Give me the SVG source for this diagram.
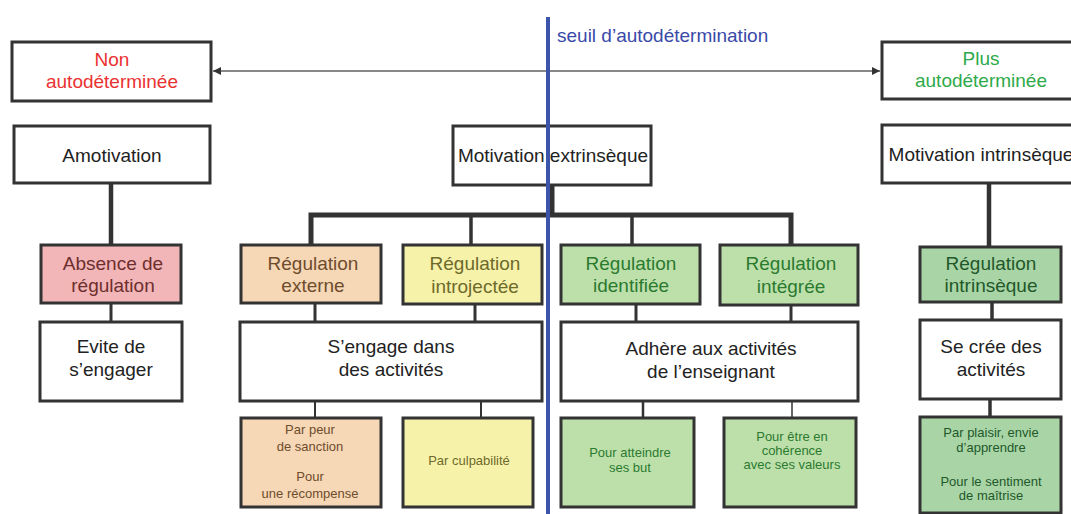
<svg xmlns="http://www.w3.org/2000/svg" width="1071" height="514" viewBox="0 0 1071 514">
<style>
text{font-family:"Liberation Sans",Arial,sans-serif;text-anchor:middle}
.box{stroke:#333;stroke-width:3}
.w{fill:#fff}
.pink{fill:#f2b6b8}
.peach{fill:#f6d7b6}
.yel{fill:#f6f2aa}
.grn{fill:#bde0aa}
.grn2{fill:#a9d5a6}
.big{font-size:19px;fill:#222}
.lab{font-size:19px}
.sm{font-size:13px}
.conn{stroke:#333;fill:none}
</style>
<defs>
<marker id="ah" viewBox="0 0 10 10" refX="10" refY="5" markerWidth="8" markerHeight="8" markerUnits="userSpaceOnUse" orient="auto-start-reverse">
<path d="M0,0 L10,5 L0,10 z" fill="#333"/>
</marker>
</defs>
<rect width="1071" height="514" fill="#fff"/>
<g id="connectors">
<line x1="213" y1="71" x2="880" y2="71" stroke="#888" stroke-width="2" marker-start="url(#ah)" marker-end="url(#ah)"/>
<line class="conn" x1="111" y1="183" x2="111" y2="245" stroke-width="4.5"/>
<line class="conn" x1="552" y1="185" x2="552" y2="215" stroke-width="5"/>
<polyline class="conn" points="311,245 311,215 791,215 791,245" stroke-width="5"/>
<line class="conn" x1="471" y1="215" x2="471" y2="245" stroke-width="3.5"/>
<line class="conn" x1="632" y1="215" x2="632" y2="245" stroke-width="3.5"/>
<line class="conn" x1="989" y1="183" x2="989" y2="247" stroke-width="4.5"/>
<line class="conn" x1="111" y1="303" x2="111" y2="322" stroke-width="3"/>
<line class="conn" x1="315" y1="303" x2="315" y2="322" stroke-width="3"/>
<line class="conn" x1="475" y1="304" x2="475" y2="322" stroke-width="3"/>
<line class="conn" x1="636" y1="304" x2="636" y2="322" stroke-width="3"/>
<line class="conn" x1="791" y1="305" x2="791" y2="322" stroke-width="3"/>
<line class="conn" x1="992" y1="302" x2="992" y2="320" stroke-width="3.5"/>
<line class="conn" x1="315" y1="401" x2="315" y2="418" stroke-width="2"/>
<line class="conn" x1="481" y1="401" x2="481" y2="418" stroke-width="2"/>
<line class="conn" x1="643" y1="401" x2="643" y2="418" stroke-width="2.5"/>
<line class="conn" x1="792" y1="401" x2="792" y2="418" stroke-width="1.5"/>
<line class="conn" x1="990" y1="399" x2="990" y2="417" stroke-width="3.5"/>
</g>
<g id="non-autodeterminee">
<rect class="box w" x="12" y="42" width="199" height="59"/>
<text class="lab" x="112" y="66" fill="#ea3131">Non</text>
<text class="lab" x="112" y="88" fill="#ea3131">autodéterminée</text>
</g>
<g id="plus-autodeterminee">
<rect class="box w" x="882" y="42" width="199" height="57"/>
<text class="lab" x="981" y="65" fill="#2eaa4a">Plus</text>
<text class="lab" x="981" y="87" fill="#2eaa4a">autodéterminée</text>
</g>
<g id="amotivation">
<rect class="box w" x="14" y="126" width="196" height="57"/>
<text class="big" x="112" y="162">Amotivation</text>
</g>
<g id="motivation-extrinseque">
<rect class="box w" x="453" y="126" width="198" height="59"/>
<text class="big" x="553" y="162">Motivation extrinsèque</text>
</g>
<g id="motivation-intrinseque">
<rect class="box w" x="882" y="125" width="199" height="58"/>
<text class="big" x="981" y="161">Motivation intrinsèque</text>
</g>
<g id="absence-regulation">
<rect class="box pink" x="41" y="245" width="140" height="58"/>
<text class="lab" x="113" y="270" fill="#6e2e2e">Absence de</text>
<text class="lab" x="113" y="292" fill="#6e2e2e">régulation</text>
</g>
<g id="regulation-externe">
<rect class="box peach" x="241" y="245" width="140" height="58"/>
<text class="lab" x="313" y="270" fill="#6e4c2c">Régulation</text>
<text class="lab" x="313" y="292" fill="#6e4c2c">externe</text>
</g>
<g id="regulation-introjectee">
<rect class="box yel" x="403" y="245" width="139" height="59"/>
<text class="lab" x="475" y="270" fill="#6e6a2a">Régulation</text>
<text class="lab" x="475" y="293" fill="#6e6a2a">introjectée</text>
</g>
<g id="regulation-identifiee">
<rect class="box grn" x="561" y="245" width="139" height="59"/>
<text class="lab" x="631" y="270" fill="#2b7a30">Régulation</text>
<text class="lab" x="631" y="292" fill="#2b7a30">identifiée</text>
</g>
<g id="regulation-integree">
<rect class="box grn" x="720" y="245" width="138" height="60"/>
<text class="lab" x="791" y="270" fill="#2b7a30">Régulation</text>
<text class="lab" x="791" y="293" fill="#2b7a30">intégrée</text>
</g>
<g id="regulation-intrinseque">
<rect class="box grn2" x="920" y="247" width="141" height="55"/>
<text class="lab" x="991" y="270" fill="#22582a">Régulation</text>
<text class="lab" x="991" y="292" fill="#22582a">intrinsèque</text>
</g>
<g id="evite">
<rect class="box w" x="40" y="322" width="142" height="79"/>
<text class="big" x="111" y="353">Evite de</text>
<text class="big" x="111" y="376">s’engager</text>
</g>
<g id="sengage">
<rect class="box w" x="240" y="322" width="302" height="79"/>
<text class="big" x="391" y="353">S’engage dans</text>
<text class="big" x="391" y="376">des activités</text>
</g>
<g id="adhere">
<rect class="box w" x="561" y="322" width="297" height="79"/>
<text class="big" x="711" y="355">Adhère aux activités</text>
<text class="big" x="711" y="378">de l’enseignant</text>
</g>
<g id="se-cree">
<rect class="box w" x="920" y="320" width="141" height="79"/>
<text class="big" x="991" y="353">Se crée des</text>
<text class="big" x="991" y="376">activités</text>
</g>
<g id="par-peur">
<rect class="box peach" x="241" y="418" width="140" height="89"/>
<text class="sm" x="310" y="434" fill="#6e4c2c">Par peur</text>
<text class="sm" x="310" y="451" fill="#6e4c2c">de sanction</text>
<text class="sm" x="310" y="481" fill="#6e4c2c">Pour</text>
<text class="sm" x="310" y="498" fill="#6e4c2c">une récompense</text>
</g>
<g id="par-culpabilite">
<rect class="box yel" x="403" y="418" width="130" height="89"/>
<text class="sm" x="469" y="465" fill="#6e6a2a">Par culpabilité</text>
</g>
<g id="pour-atteindre">
<rect class="box grn" x="561" y="418" width="133" height="89"/>
<text class="sm" x="630" y="457" fill="#2b7a30">Pour atteindre</text>
<text class="sm" x="630" y="472" fill="#2b7a30">ses but</text>
</g>
<g id="pour-etre">
<rect class="box grn" x="724" y="418" width="132" height="89"/>
<text class="sm" x="792" y="441" fill="#2b7a30">Pour être en</text>
<text class="sm" x="792" y="455" fill="#2b7a30">cohérence</text>
<text class="sm" x="792" y="469" fill="#2b7a30">avec ses valeurs</text>
</g>
<g id="par-plaisir">
<rect class="box grn2" x="920" y="417" width="141" height="96"/>
<text class="sm" x="991" y="437" fill="#22582a">Par plaisir, envie</text>
<text class="sm" x="991" y="452" fill="#22582a">d’apprendre</text>
<text class="sm" x="991" y="486" fill="#22582a">Pour le sentiment</text>
<text class="sm" x="991" y="500" fill="#22582a">de maîtrise</text>
</g>
<g id="seuil">
<line x1="548" y1="17" x2="548" y2="514" stroke="#3a55aa" stroke-width="4"/>
<text x="557" y="42" font-size="19" fill="#3a4aa8" style="text-anchor:start">seuil d’autodétermination</text>
</g>
</svg>
